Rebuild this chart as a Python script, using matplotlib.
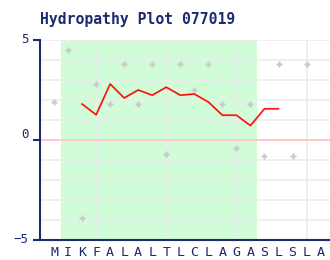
import matplotlib
matplotlib.use("Agg")
import matplotlib.pyplot as plt
from matplotlib.transforms import ScaledTranslation
import numpy as np

title = "Hydropathy Plot 077019"
residues = list("MIKFALALTLCLAGASLSLA")
# per-residue hydropathy (gray points); last residue shows no point
residue_values = [1.9, 4.5, -3.9, 2.8, 1.8, 3.8, 1.8, 3.8, -0.7, 3.8,
                  2.5, 3.8, 1.8, -0.4, 1.8, -0.8, 3.8, -0.8, 3.8, np.nan]
# window average (red line), plotted from residue 3 to 17
avg_start = 3
avg_values = [1.80, 1.26, 2.80, 2.10, 2.50, 2.24, 2.64, 2.24, 2.30, 1.90,
              1.24, 1.24, 0.72, 1.56, 1.56]
region = (1.5, 15.5)
y_ticks = [-5, 0, 5]
grid_x = [4, 9, 14, 19]

navy = "#1c2a6e"
grid_c = "#ececec"
fig = plt.figure(figsize=(3.3, 2.6), dpi=100)
ax = fig.add_axes([40/330, 20/260, 290/330, 200/260])

x = np.arange(1, len(residues) + 1)
ax.axvspan(region[0], region[1], color="#d0fcd8", lw=0, zorder=0)
for yv in range(-4, 6):
    if yv != 0:
        ax.axhline(yv, color=grid_c, lw=1.2, zorder=1)
for xv in grid_x:
    ax.axvline(xv, color=grid_c, lw=1.2, zorder=1)
ax.axhline(0, color="#ffc4c4", lw=1.3, zorder=2)

ax.plot(x, residue_values, ls="none", marker="P", ms=4.5, mfc="#c8c8c8",
        mec="none", zorder=3)
xa = np.arange(avg_start, avg_start + len(avg_values))
ax.plot(xa, avg_values, color="#ff3030", lw=1.5, zorder=4, alpha=0.5)
ax.plot(xa, avg_values, color="#ff0000", lw=0.9, zorder=5)

ax.set_xlim(0, 20.67)
ax.set_ylim(-5, 5)
for s in ["top", "right"]:
    ax.spines[s].set_visible(False)
for s in ["left", "bottom"]:
    ax.spines[s].set_color(navy)
    ax.spines[s].set_linewidth(1.5)

ax.set_xticks(x)
ax.set_xticklabels(residues, family="DejaVu Sans Mono", fontsize=9.5, color=navy)
ax.tick_params(axis="x", length=0, pad=4)
ax.set_yticks(y_ticks)
ax.set_yticklabels([str(v).replace("-", "\u2212") for v in y_ticks],
                   family="DejaVu Sans Mono", fontsize=9, color=navy)
ax.tick_params(axis="y", length=5, width=1.5, color=navy, pad=3)
ticks = ax.yaxis.get_major_ticks()
ticks[1].tick1line.set_color("#ffc4c4")
for t, dy in zip(ticks, [2, 7, 2]):
    lab = t.label1
    lab.set_transform(lab.get_transform() + ScaledTranslation(0, dy/100, fig.dpi_scale_trans))

fig.text(40/330, 1 - 24/260, title, family="DejaVu Sans Mono", fontweight="bold",
         fontsize=10.6, color=navy, va="baseline", ha="left")

fig.savefig("out.png", dpi=100)
